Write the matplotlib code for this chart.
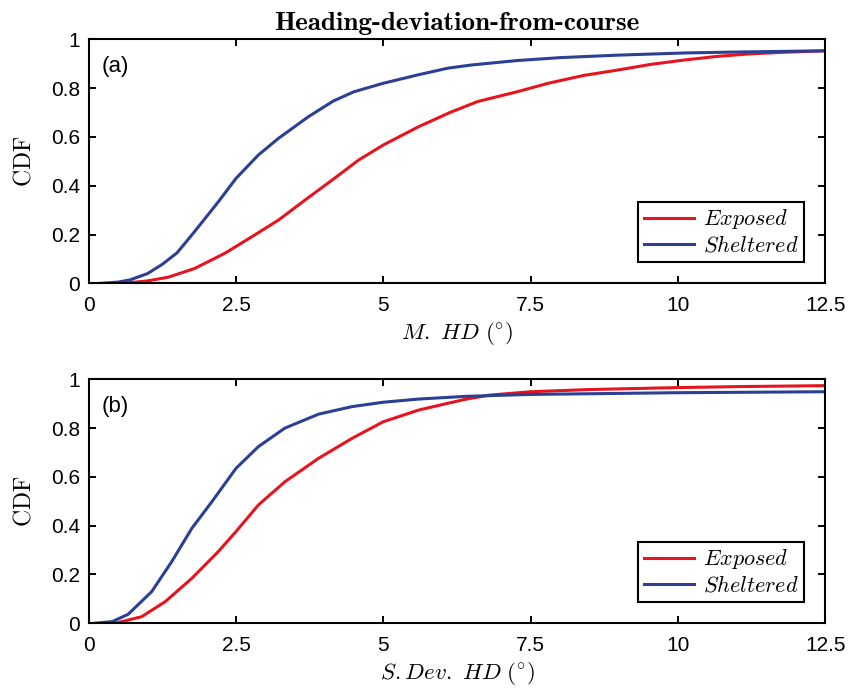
import matplotlib
matplotlib.use('Agg')
import matplotlib.pyplot as plt

plt.rcParams['font.family'] = 'Liberation Sans'
plt.rcParams['mathtext.fontset'] = 'cm'

# ======== Data ========
# (a) mean heading deviation
a_shel_x = [0.2, 0.5, 0.7, 1.0, 1.25, 1.5, 1.63, 1.8, 2.2, 2.5, 2.88, 3.22, 3.73, 4.15, 4.5,
            5.0, 5.6, 6.1, 6.5, 7.27, 8.0, 8.96, 10.1, 11.0, 12.5]
a_shel_y = [0.0, 0.005, 0.014, 0.04, 0.078, 0.125, 0.163, 0.213, 0.334, 0.43, 0.526, 0.594, 0.683,
            0.747, 0.785, 0.82, 0.855, 0.882, 0.895, 0.913, 0.925, 0.935, 0.944, 0.948, 0.953]
a_expo_x = [0.5, 0.8, 1.0, 1.35, 1.8, 2.31, 2.77, 3.22, 3.67, 4.13, 4.58, 5.0, 5.6, 6.13,
            6.6, 7.27, 7.8, 8.4, 9.0, 9.53, 10.1, 10.66, 11.2, 11.8, 12.5]
a_expo_y = [0.0, 0.005, 0.01, 0.025, 0.061, 0.123, 0.191, 0.259, 0.341, 0.423, 0.505, 0.567,
            0.642, 0.70, 0.745, 0.785, 0.82, 0.852, 0.875, 0.897, 0.915, 0.93, 0.94, 0.947, 0.953]

# (b) standard deviation of heading deviation
b_shel_x = [0.1, 0.4, 0.67, 1.07, 1.41, 1.75, 2.09, 2.5, 2.88, 3.33, 3.9, 4.47, 5.0, 5.6,
            6.39, 7.5, 10.0, 12.5]
b_shel_y = [0.0, 0.007, 0.037, 0.13, 0.253, 0.389, 0.498, 0.635, 0.724, 0.80, 0.857, 0.888,
            0.906, 0.919, 0.93, 0.938, 0.945, 0.949]
b_expo_x = [0.45, 0.9, 1.3, 1.75, 2.2, 2.5, 2.88, 3.33, 3.9, 4.47, 5.0, 5.6, 6.39, 6.8,
            7.5, 8.5, 10.0, 11.0, 12.5]
b_expo_y = [0.0, 0.027, 0.089, 0.184, 0.294, 0.376, 0.485, 0.58, 0.676, 0.758, 0.826, 0.874,
            0.918, 0.935, 0.949, 0.958, 0.966, 0.97, 0.974]

x_ticks = [0, 2.5, 5, 7.5, 10, 12.5]
x_ticklabels = ['0', '2.5', '5', '7.5', '10', '12.5']
y_ticks = [0, 0.2, 0.4, 0.6, 0.8, 1]
y_ticklabels = ['0', '0.2', '0.4', '0.6', '0.8', '1']

red = '#e6141e'
blue = '#2b3f95'

fig = plt.figure(figsize=(8.52, 6.9), dpi=100)
ax_a = fig.add_axes([0.1041, 0.5894, 0.8645, 0.3536])
ax_b = fig.add_axes([0.1041, 0.0967, 0.8645, 0.3536])

panels = [
    (ax_a, a_expo_x, a_expo_y, a_shel_x, a_shel_y, '(a)', r'$M.\ HD\ (^{\circ})$'),
    (ax_b, b_expo_x, b_expo_y, b_shel_x, b_shel_y, '(b)', r'$S.Dev.\ HD\ (^{\circ})$'),
]

for ax, ex, ey, sx, sy, tag, xlab in panels:
    ax.plot(ex, ey, color=red, lw=2.2, label=r'$Exposed$')
    ax.plot(sx, sy, color=blue, lw=2.2, label=r'$Sheltered$')
    ax.set_xlim(0, 12.5)
    ax.set_ylim(0, 1)
    ax.set_xticks(x_ticks)
    ax.set_xticklabels(x_ticklabels)
    ax.set_yticks(y_ticks)
    ax.set_yticklabels(y_ticklabels)
    ax.tick_params(direction='in', top=True, right=True, length=5, width=1.4,
                   labelsize=15)
    ax.tick_params(axis='x', pad=9)
    ax.tick_params(axis='y', pad=6)
    for sp in ax.spines.values():
        sp.set_linewidth(1.5)
    ax.set_xlabel(xlab, fontsize=16.5, labelpad=4)
    ax.set_ylabel(r'$\mathrm{CDF}$', fontsize=17, labelpad=11)
    ax.text(0.0177, 0.89, tag, transform=ax.transAxes, fontsize=16, va='center', ha='left')
    leg = ax.legend(loc='lower right', bbox_to_anchor=(0.971, 0.086), fontsize=16,
                    handlelength=2.25, handletextpad=0.4, borderpad=0.25,
                    labelspacing=0.2, fancybox=False, edgecolor='black', framealpha=1,
                    borderaxespad=0)
    leg.get_frame().set_linewidth(1.5)

ax_a.set_title('Heading-deviation-from-course', fontsize=19.5, fontfamily='cmb10', pad=7)

fig.savefig('out.png', dpi=100)
